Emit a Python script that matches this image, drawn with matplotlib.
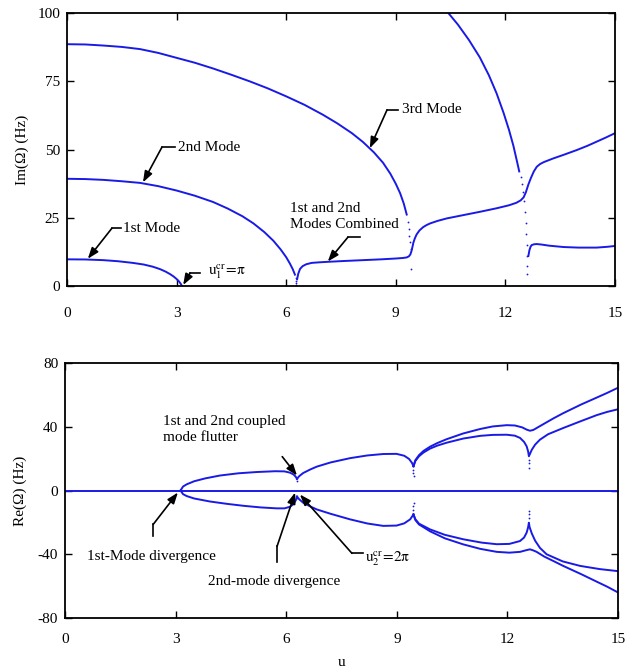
import matplotlib
matplotlib.use("Agg")
import matplotlib.pyplot as plt

plt.rcParams['font.family'] = ['Liberation Serif', 'DejaVu Serif']
plt.rcParams['mathtext.fontset'] = 'stix'
plt.rcParams['font.size'] = 11
plt.rcParams['axes.unicode_minus'] = False

# ---- Im(Omega) curves (top panel) ----
mode1_u = [0, 0.5, 1.0, 1.4, 1.8, 2.1, 2.35, 2.55, 2.7, 2.82, 2.92, 3.0, 3.06, 3.1, 3.13, 3.14]
mode1_im = [9.8, 9.75, 9.5, 9.1, 8.5, 7.9, 7.1, 6.2, 5.3, 4.4, 3.5, 2.6, 1.8, 1.1, 0.5, 0.0]

mode2_u = [0, 0.5, 1.0, 1.5, 2.0, 2.5, 3.0, 3.5, 4.0, 4.4, 4.8, 5.1, 5.4, 5.65, 5.85,
           6.0, 6.1, 6.18, 6.24]
mode2_im = [39.3, 39.2, 38.9, 38.4, 37.8, 36.6, 35.0, 33.1, 30.8, 28.4, 25.6, 23.0, 19.8,
            16.6, 13.4, 10.6, 8.3, 6.2, 4.2]
mode2_dots_u = [6.26, 6.27, 6.28, 6.28]
mode2_dots_im = [3.0, 2.0, 1.0, 0.3]

mode3_u = [0, 0.5, 1.0, 1.5, 2.0, 2.5, 3.0, 3.5, 4.0, 4.5, 5.0, 5.5, 6.0, 6.5, 7.0, 7.4,
           7.8, 8.1, 8.4, 8.65, 8.85, 9.0, 9.12, 9.22, 9.3]
mode3_im = [88.6, 88.5, 88.1, 87.6, 86.8, 85.4, 83.6, 81.8, 79.7, 77.4, 75.0, 72.4, 69.5,
            66.4, 62.8, 59.6, 56.0, 52.8, 49.0, 45.2, 41.2, 37.5, 34.0, 30.2, 26.2]
mode3_dots_u = [9.33, 9.35, 9.37, 9.39, 9.41, 9.43]
mode3_dots_im = [23.5, 21.0, 18.5, 16.0, 13.5, 6.1]

comb_u = [6.30, 6.33, 6.38, 6.45, 6.55, 6.7, 6.9, 7.15, 7.6, 8.1, 8.6, 9.0, 9.2, 9.3, 9.36,
          9.4, 9.43, 9.46, 9.48, 9.52, 9.57, 9.65, 9.75, 9.85, 9.95, 10.15, 10.4, 10.85,
          11.3, 11.76, 12.1, 12.3, 12.42, 12.5, 12.56, 12.63, 12.7, 12.78, 12.86, 12.95,
          13.05, 13.3, 13.6, 13.95, 14.25, 14.5, 14.75, 15.0]
comb_im = [2.5, 4.5, 6.3, 7.3, 8.0, 8.5, 8.7, 8.9, 9.2, 9.5, 9.8, 10.1, 10.3, 10.5, 10.9,
           11.6, 12.8, 14.5, 15.8, 17.4, 18.9, 20.4, 21.6, 22.4, 23.0, 23.9, 24.8, 26.0,
           27.2, 28.5, 29.6, 30.5, 31.4, 32.5, 34.3, 37.2, 39.6, 42.0, 43.7, 44.7,
           45.4, 46.7, 48.1, 49.8, 51.4, 52.9, 54.4, 56.0]

mode4_u = [10.44, 10.7, 11.0, 11.3, 11.55, 11.76, 11.95, 12.1, 12.22, 12.32, 12.38]
mode4_im = [100, 95.8, 90.2, 83.8, 77.2, 70.6, 63.5, 57.2, 51.4, 45.6, 42.0]
mode4_dots_u = [12.42, 12.45, 12.49, 12.52, 12.54, 12.56, 12.57, 12.58, 12.59, 12.6, 12.6]
mode4_dots_im = [40.0, 37.5, 34.5, 31.0, 27.0, 23.0, 19.0, 15.0, 11.0, 7.5, 4.4]

low_u = [12.63, 12.66, 12.69, 12.72, 12.78, 12.86, 13.0, 13.2, 13.6, 14.0, 14.5, 14.8, 15.0]
low_im = [11.0, 13.2, 14.4, 15.0, 15.3, 15.4, 15.2, 14.8, 14.3, 14.1, 14.1, 14.4, 14.7]

# ---- Re(Omega) curves (bottom panel) ----
zero_u = [0, 15]
zero_re = [0, 0]

up1_u = [3.13, 3.2, 3.3, 3.5, 3.8, 4.2, 4.7, 5.2, 5.7, 5.95, 6.1, 6.2, 6.26, 6.29]
up1_re = [0, 2.5, 3.9, 5.8, 7.6, 9.4, 10.8, 11.6, 12.1, 12.0, 11.2, 10.0, 8.5, 7.3]
lo1_u = [3.13, 3.2, 3.3, 3.5, 3.93, 4.4, 4.84, 5.3, 5.74, 5.95, 6.1, 6.2, 6.26, 6.29]
lo1_re = [0, -2.3, -3.5, -5.0, -6.9, -8.4, -9.6, -10.6, -11.2, -11.2, -10.2, -8.5, -6.0, -3.8]

up2_u = [6.29, 6.35, 6.46, 6.65, 6.83, 7.2, 7.73, 8.2, 8.63, 8.99, 9.2, 9.33, 9.41, 9.45]
up2_re = [7.3, 9.0, 11.0, 13.2, 15.0, 17.6, 20.3, 22.0, 22.9, 23.0, 21.8, 19.8, 17.3, 15.2]
lo2_u = [6.29, 6.35, 6.46, 6.65, 6.83, 7.2, 7.73, 8.2, 8.63, 8.99, 9.2, 9.36, 9.45]
lo2_re = [-3.8, -5.5, -7.7, -10.0, -11.9, -14.6, -18.1, -20.7, -22.2, -22.0, -20.6, -18.1, -15.0]

up_out_u = [9.45, 9.5, 9.6, 9.72, 9.9, 10.1, 10.35, 10.8, 11.26, 11.6, 11.98, 12.2, 12.4,
            12.52, 12.61, 12.7, 12.79, 13.0, 13.25, 13.51, 14.0, 14.42, 14.7, 15.0]
up_out_re = [15.2, 19.0, 22.2, 24.8, 27.5, 29.8, 32.2, 35.8, 38.6, 40.2, 41.0, 40.8, 39.6,
             38.2, 37.5, 38.0, 39.2, 42.0, 45.3, 48.5, 54.0, 58.3, 61.2, 64.5]
up_in_u = [9.45, 9.5, 9.6, 9.72, 9.9, 10.1, 10.35, 10.8, 11.26, 11.6, 11.98, 12.2, 12.34,
           12.45, 12.52, 12.56, 12.58, 12.6, 12.66, 12.75, 12.88, 13.1, 13.51, 14.0,
           14.42, 14.7, 15.0]
up_in_re = [15.2, 18.5, 21.5, 23.8, 26.3, 28.2, 30.0, 32.6, 34.3, 34.9, 35.0, 34.4, 33.0,
            30.5, 27.7, 24.5, 21.5, 22.5, 25.6, 28.8, 31.9, 35.3, 39.2, 43.6,
            47.3, 49.3, 51.0]

lo_out_u = [9.45, 9.5, 9.6, 9.9, 10.3, 10.8, 11.26, 11.71, 12.05, 12.34, 12.5, 12.61,
            12.7, 12.79, 13.0, 13.25, 13.51, 14.0, 14.42, 14.7, 15.0]
lo_out_re = [-15.0, -18.5, -21.3, -25.6, -30.0, -33.8, -36.6, -38.5, -39.0, -38.5, -37.5,
             -36.9, -37.6, -38.5, -41.5, -44.3, -47.3, -52.5, -57.2, -60.3, -64.0]
lo_in_u = [9.45, 9.5, 9.6, 9.9, 10.3, 10.8, 11.3, 11.71, 12.05, 12.34, 12.45, 12.52,
           12.56, 12.58, 12.6, 12.66, 12.75, 12.88, 13.06, 13.5, 13.97, 14.5, 15.0]
lo_in_re = [-15.0, -18.0, -20.8, -24.4, -27.8, -30.6, -32.7, -33.7, -33.5, -31.7, -29.5,
            -26.4, -23.0, -20.2, -23.0, -27.0, -31.5, -36.0, -40.0, -44.5, -47.3, -49.3, -50.6]

re_dots_u = [6.28, 6.28, 9.45, 9.45, 9.46, 12.58, 12.58, 12.59,
             9.45, 9.45, 9.46, 12.58, 12.58, 12.59]
re_dots_re = [5.8, -5.0, 13.0, 11.0, 9.0, 19.0, 17.0, 14.2,
              -12.5, -10.0, -8.0, -17.5, -15.0, -12.9]

BLUE = '#1a1ae6'
LW = 1.4


def setup(ax, ylim, yticks, xpad):
    ax.set_xlim(0, 15)
    ax.set_ylim(*ylim)
    ax.set_xticks([0, 3, 6, 9, 12, 15])
    ax.set_yticks(yticks)
    ax.tick_params(direction='in', top=True, right=True, length=5, width=1,
                   labelsize=11)
    ax.tick_params(axis='x', pad=xpad)
    ax.tick_params(axis='y', pad=5)
    for s in ax.spines.values():
        s.set_linewidth(1.3)


def bent_arrow(ax, text, txy, start, corner, tip, **kw):
    ax.text(txy[0], txy[1], text, ha='left', va='center', fontsize=11, **kw)
    ax.plot([start[0], corner[0]], [start[1], corner[1]], color='black', lw=1.2)
    ax.annotate('', xy=tip, xytext=corner,
                arrowprops=dict(arrowstyle='-|>,head_length=0.6,head_width=0.22',
                                color='black', lw=1.2, shrinkA=0, shrinkB=0))


fig = plt.figure(figsize=(6.32, 6.70), dpi=100)
ax1 = fig.add_axes([0.106, 0.573, 0.867, 0.4075])
ax2 = fig.add_axes([0.103, 0.0776, 0.875, 0.3806])

# top panel
for u, v in [(mode1_u, mode1_im), (mode2_u, mode2_im), (mode3_u, mode3_im),
             (comb_u, comb_im), (mode4_u, mode4_im), (low_u, low_im)]:
    ax1.plot(u, v, color=BLUE, lw=LW)
for u, v in [(mode2_dots_u, mode2_dots_im), (mode3_dots_u, mode3_dots_im),
             (mode4_dots_u, mode4_dots_im)]:
    ax1.plot(u, v, 'o', color=BLUE, ms=1.3, mew=0)
setup(ax1, (0, 100), [0, 25, 50, 75, 100], xpad=15)
ax1.set_ylabel('Im(Ω) (Hz)', fontsize=11, labelpad=6)

bent_arrow(ax1, '2nd Mode', (3.04, 50.9), (2.96, 50.9), (2.60, 50.9), (2.08, 38.0))
bent_arrow(ax1, '1st Mode', (1.53, 21.2), (1.48, 21.2), (1.23, 21.2), (0.57, 10.0))
bent_arrow(ax1, r'$\mathrm{u_1^{cr}\!=\!\pi}$', (3.86, 5.5), (3.64, 4.8), (3.37, 4.8),
           (3.18, 0.4))
bent_arrow(ax1, '3rd Mode', (9.17, 64.5), (9.06, 64.5), (8.76, 64.5), (8.29, 50.5))
bent_arrow(ax1, '1st and 2nd\nModes Combined', (6.10, 25.5), (8.02, 17.9),
           (7.69, 17.9), (7.14, 9.0), linespacing=1.3)

# bottom panel
ax2.plot(zero_u, zero_re, color=BLUE, lw=LW)
for u, v in [(up1_u, up1_re), (lo1_u, lo1_re), (up2_u, up2_re), (lo2_u, lo2_re),
             (up_out_u, up_out_re), (up_in_u, up_in_re),
             (lo_out_u, lo_out_re), (lo_in_u, lo_in_re)]:
    ax2.plot(u, v, color=BLUE, lw=LW)
ax2.plot(re_dots_u, re_dots_re, 'o', color=BLUE, ms=1.3, mew=0)
setup(ax2, (-80, 80), [-80, -40, 0, 40, 80], xpad=11)
ax2.set_ylabel('Re(Ω) (Hz)', fontsize=11, labelpad=8)
ax2.set_xlabel('u', fontsize=11, labelpad=7)

ax2.text(2.66, 38.4, '1st and 2nd coupled\nmode flutter', ha='left', va='center',
         fontsize=11, linespacing=1.25)
ax2.annotate('', xy=(6.29, 9.4), xytext=(5.89, 21.25),
             arrowprops=dict(arrowstyle='-|>,head_length=0.6,head_width=0.22',
                             color='black', lw=1.2, shrinkA=0, shrinkB=0))
bent_arrow(ax2, '1st-Mode divergence', (0.6, -41.25), (2.39, -28.75), (2.39, -21.25),
           (3.06, -1.25))
bent_arrow(ax2, '2nd-mode divergence', (3.88, -56.9), (5.75, -45.0), (5.75, -35.0),
           (6.24, -1.25))
bent_arrow(ax2, r'$\mathrm{u_2^{cr}\!=\!2\pi}$', (8.14, -42.5), (8.08, -39.4),
           (7.78, -39.4), (6.37, -2.5))

fig.savefig('out.png', dpi=100)
